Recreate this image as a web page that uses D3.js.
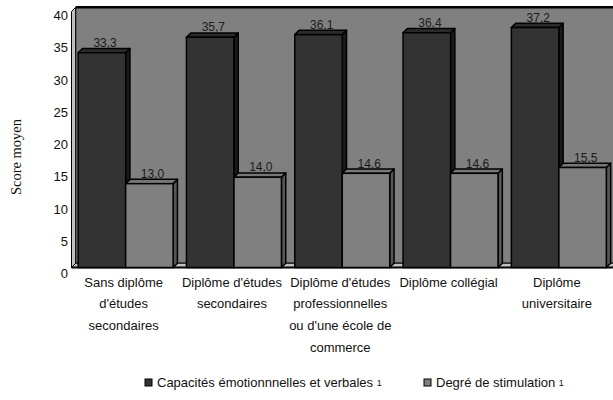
<!DOCTYPE html>
<html>
<head>
<meta charset="utf-8">
<script src="https://cdn.jsdelivr.net/npm/d3@7"></script>
<style>
  body { margin: 0; background: #fff; }
  svg { display: block; }
</style>
</head>
<body>
<div id="chart"></div>
<script>
// categories (line breaks as in the picture)
var categories = [
  ["Sans diplôme", "d'études", "secondaires"],
  ["Diplôme d'études", "secondaires"],
  ["Diplôme d'études", "professionnelles", "ou d'une école de", "commerce"],
  ["Diplôme collégial"],
  ["Diplôme", "universitaire"]
];
var seriesNames = ["Capacités émotionnnelles et verbales", "Degré de stimulation"];
var capacites = [33.3, 35.7, 36.1, 36.4, 37.2];
var stimulation = [13.0, 14.0, 14.6, 14.6, 15.5];
var yTicks = [0, 5, 10, 15, 20, 25, 30, 35, 40];

var width = 613, height = 400;
var dx = 4.3, dy = -4.3;   // profondeur 3D
var colors = [
  {front: "#333333", top: "#2b2b2b", side: "#1a1a1a"},
  {front: "#808080", top: "#777777", side: "#575757"}
];

var svg = d3.select("#chart").append("svg")
  .attr("width", width)
  .attr("height", height)
  .style("font-family", "'Liberation Sans', Arial, sans-serif");

var catIdx = categories.map((c, i) => i);
var x0 = d3.scaleBand().domain(catIdx).range([71.5, 613]).paddingInner(0.123).paddingOuter(0.0615);
var x1 = d3.scaleBand().domain([0, 1]).range([0, x0.bandwidth()]);
var y = d3.scaleLinear().domain([0, 40]).range([267.5, 9.5]);

var y0 = y(0), yTop = y(40);

// mur gauche
svg.append("path")
  .attr("d", "M71.5," + (yTop + 2) + "L" + (71.5 + dx) + "," + (yTop + dy + 2) + "L" + (71.5 + dx) + "," + (y0 + dy) + "L71.5," + y0 + "Z")
  .attr("fill", "#c0c0c0").attr("stroke", "#000").attr("stroke-width", 1);

// mur du fond
svg.append("rect")
  .attr("x", 71.5 + dx).attr("y", yTop + dy + 2)
  .attr("width", width - 71.5 - dx + 5).attr("height", y0 + dy - (yTop + dy + 2))
  .attr("fill", "#808080").attr("stroke", "#000").attr("stroke-width", 1);
svg.append("line")
  .attr("x1", 71.5 + dx).attr("x2", width).attr("y1", yTop + dy + 2).attr("y2", yTop + dy + 2)
  .attr("stroke", "#000").attr("stroke-width", 2.5);

// plancher
svg.append("path")
  .attr("d", "M71.5," + y0 + "L" + (71.5 + dx) + "," + (y0 + dy) + "L" + (width + 5) + "," + (y0 + dy) + "L" + (width + 5) + "," + y0 + "Z")
  .attr("fill", "#c0c0c0").attr("stroke", "#000").attr("stroke-width", 1);
svg.append("line")
  .attr("x1", 71.5).attr("x2", width).attr("y1", y0).attr("y2", y0)
  .attr("stroke", "#000").attr("stroke-width", 2);

// barres
var data = [];
catIdx.forEach(function (i) {
  [capacites, stimulation].forEach(function (s, k) {
    data.push({cat: i, k: k, v: s[i]});
  });
});

var bars = svg.append("g").selectAll("g").data(data).join("g");
bars.each(function (d) {
  var g = d3.select(this);
  var xl = x0(d.cat) + x1(d.k), w = x1.bandwidth();
  var yt = y(d.v);
  var c = colors[d.k];
  g.append("path")
    .attr("d", "M" + (xl + w) + "," + yt + "L" + (xl + w + dx) + "," + (yt + dy) + "L" + (xl + w + dx) + "," + (y0 + dy) + "L" + (xl + w) + "," + y0 + "Z")
    .attr("fill", c.side).attr("stroke", "#000").attr("stroke-width", 1.5).attr("stroke-linejoin", "round");
  g.append("path")
    .attr("d", "M" + xl + "," + yt + "L" + (xl + dx) + "," + (yt + dy) + "L" + (xl + w + dx) + "," + (yt + dy) + "L" + (xl + w) + "," + yt + "Z")
    .attr("fill", c.top).attr("stroke", "#000").attr("stroke-width", 1.5).attr("stroke-linejoin", "round");
  g.append("rect")
    .attr("x", xl).attr("y", yt).attr("width", w).attr("height", y0 - yt)
    .attr("fill", c.front).attr("stroke", "#000").attr("stroke-width", 1.5);
});

// étiquettes de valeurs
svg.append("g").selectAll("text").data(data).join("text")
  .attr("x", d => x0(d.cat) + x1(d.k) + x1.bandwidth() / 2 + dx / 2 + 1)
  .attr("y", d => y(d.v) + dy - 1.5)
  .attr("text-anchor", "middle")
  .attr("font-size", "12px")
  .attr("fill", "#1a1a1a")
  .text(d => d3.format(".1f")(d.v).replace(".", ","));

// axe Y
svg.append("g").selectAll("text").data(yTicks).join("text")
  .attr("x", 68)
  .attr("y", d => y(d) + 6)
  .attr("dy", "0.35em")
  .attr("text-anchor", "end")
  .attr("font-size", "13px")
  .attr("fill", "#111")
  .text(d => d);

svg.append("text")
  .attr("transform", "translate(21,157) rotate(-90)")
  .attr("text-anchor", "middle")
  .attr("font-family", "'Liberation Serif', 'Times New Roman', serif")
  .attr("font-size", "14.5px")
  .attr("fill", "#111")
  .text("Score moyen");

// étiquettes des catégories
var cl = svg.append("g").selectAll("text").data(catIdx).join("text")
  .attr("text-anchor", "middle")
  .attr("font-size", "13px")
  .attr("fill", "#111");
cl.selectAll("tspan").data(i => categories[i].map(t => ({t: t, i: i}))).join("tspan")
  .attr("x", d => x0(d.i) + x0.bandwidth() / 2 - 2)
  .attr("y", (d, j) => 286.5 + j * 21.7)
  .text(d => d.t);

// légende
var legX = [145, 424];
var leg = svg.append("g").selectAll("g").data(seriesNames).join("g")
  .attr("transform", (d, i) => "translate(" + legX[i] + ",379)");
leg.append("rect")
  .attr("width", 7).attr("height", 7)
  .attr("fill", (d, i) => colors[i].front)
  .attr("stroke", "#000").attr("stroke-width", 1);
var lt = leg.append("text")
  .attr("x", 12).attr("y", 8)
  .attr("font-size", "13px")
  .attr("fill", "#111");
lt.append("tspan").text(d => d + " ");
lt.append("tspan").attr("font-size", "9px").attr("dy", -1).text("1");
</script>
</body>
</html>
